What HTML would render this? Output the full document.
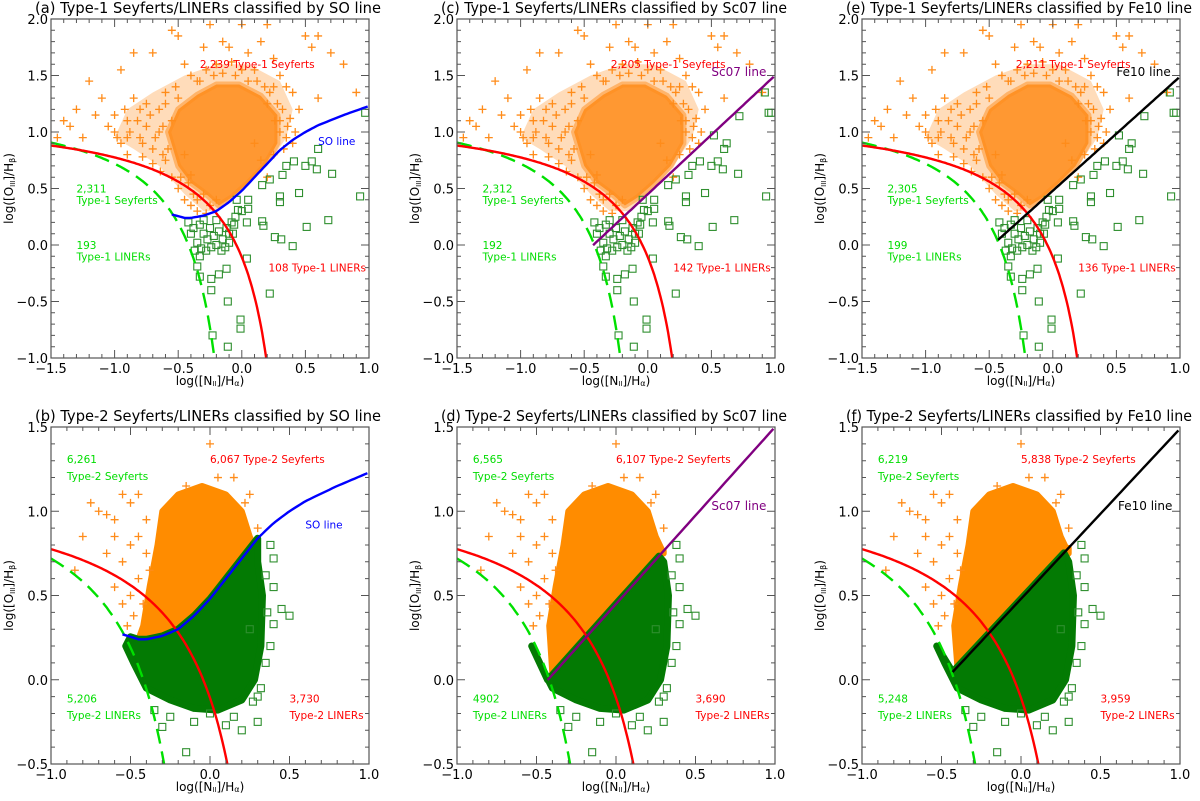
<!DOCTYPE html>
<html><head><meta charset="utf-8">
<style>
html,body{margin:0;padding:0;background:#fff;overflow:hidden;width:1200px;height:801px;}
svg{display:block;font-family:"DejaVu Sans","Liberation Sans",sans-serif;}
</style></head>
<body>
<svg id="fig" width="1200" height="801" viewBox="0 0 1200 801" xmlns="http://www.w3.org/2000/svg"></svg>
<script>
// ---------- data ----------
const t1OrangeX=[-1.45,-1.4,-1.3,-1.2,-1.1,-1.0,-0.95,-0.9,-0.85,-0.8,-0.75,-0.7,-0.65,-0.6,-0.55,-0.5,-0.45,-0.4,-0.3,-0.25,-0.2,-0.15,-0.1,0.0,0.05,0.1,0.15,0.2,0.25,0.3,0.35,0.4,0.45,0.5,0.55,0.6,0.7,0.8,0.9,0.6,0.3,0.4,0.35,0.25,-1.25,-1.15,-1.0,-0.9,-0.8,-0.7,-0.6,-0.55,-0.5,-0.45,-0.4,-0.35,-0.3,-0.25,-0.2,-0.55,-0.65,-0.75,-0.85,-0.95,0.1,0.15,0.2,0.25,-1.35,-0.45,-0.5,-0.35,-0.05,0.05,0.2];
const t1OrangeY=[0.95,1.1,1.2,1.45,1.3,1.0,1.55,1.1,1.7,0.95,1.25,1.7,1.0,1.35,1.9,1.85,1.6,1.5,1.75,1.95,1.6,1.8,1.75,1.95,1.7,1.55,1.8,1.95,1.65,1.5,1.4,1.35,1.2,1.85,1.75,1.85,1.7,1.6,1.35,1.3,1.1,0.9,0.95,0.8,0.95,1.15,1.15,0.8,1.2,0.85,0.75,0.6,0.5,0.4,0.35,0.3,0.45,0.35,0.4,1.1,1.2,1.05,1.3,0.9,0.9,0.75,1.25,1.4,1.05,0.8,1.3,1.45,1.5,1.45,0.6];
const t1OrangeMoreX=[-1.05,-0.98,-0.92,-0.88,-0.82,-0.78,-0.72,-0.68,-0.62,-0.58,-0.7,-0.64,-0.6,-0.52,-0.48,-0.42,-0.38,-0.33,-0.28,-0.22,0.22,0.28,0.32,0.36,0.3,0.26,0.33,0.38,0.42,-0.35,-0.28,-0.4,-0.15,0.0,0.12,-0.08,0.18,-0.62,-0.78,-0.9];
const t1OrangeMoreY=[1.05,0.95,1.2,1.0,1.1,0.9,1.15,0.95,1.05,0.85,0.72,0.65,1.25,1.4,0.6,0.55,0.45,1.45,1.55,1.5,1.35,1.25,1.2,1.05,1.0,1.1,0.85,1.12,1.0,0.4,0.28,0.62,1.52,1.55,1.45,1.62,1.4,0.8,0.78,0.95];
const t1HaloX=[-1.0,-0.9,-0.7,-0.45,-0.2,0.05,0.3,0.4,0.35,0.2,0.05,-0.1,-0.3,-0.45,-0.65,-0.85];
const t1HaloY=[0.95,1.2,1.35,1.5,1.6,1.6,1.45,1.2,0.95,0.7,0.5,0.3,0.3,0.45,0.7,0.85];
const t1CoreX=[-0.5,-0.58,-0.5,-0.35,-0.2,-0.02,0.15,0.28,0.28,0.18,0.05,-0.08,-0.18,-0.28,-0.4];
const t1CoreY=[0.7,1.0,1.2,1.33,1.42,1.42,1.32,1.15,0.9,0.7,0.55,0.42,0.35,0.45,0.55];
const t1GreenX=[0.97,0.60,0.71,0.59,0.50,0.55,0.41,0.35,0.32,0.22,0.16,0.30,0.30,0.45,0.93,0.68,0.51,0.40,0.26,0.31,0.16,0.17,0.05,0.05,-0.03,-0.04,0.04,-0.07,0.04,-0.12,-0.18,-0.24,-0.24,-0.33,-0.35,0.22,-0.11,-0.01,-0.01,-0.23,-0.11,-0.33,-0.42,-0.38,-0.33,-0.3,-0.27,-0.25,-0.22,-0.2,-0.18,-0.15,-0.13,-0.12,-0.1,-0.08,-0.35,-0.32,-0.28,-0.24,-0.3,-0.2,-0.16,-0.4,-0.37,-0.1,-0.05,0.0,-0.06];
const t1GreenY=[1.17,0.85,0.63,0.67,0.70,0.74,0.74,0.70,0.62,0.58,0.53,0.43,0.38,0.46,0.43,0.22,0.16,-0.01,0.07,0.05,0.21,0.17,0.32,0.40,0.31,0.40,0.20,0.10,-0.12,-0.21,-0.26,-0.30,-0.40,-0.28,-0.19,-0.43,-0.50,-0.66,-0.74,-0.80,-0.90,-0.10,0.2,0.15,0.18,0.1,0.05,0.15,0.08,0.0,0.12,0.05,-0.02,0.15,0.02,0.2,0.02,-0.03,-0.05,-0.02,0.22,0.22,-0.05,0.1,-0.05,0.1,0.25,0.3,0.18];
const t1GreenExtraX=[0.92,0.95,0.72,0.52,0.62];
const t1GreenExtraY=[1.35,1.17,1.14,0.97,0.9];
const t2OrangeTopX=[-0.42,-0.38,-0.33,-0.3,-0.2,-0.05,0.1,0.2,0.25,0.3];
const t2OrangeTopY=[0.32,0.55,0.8,1.0,1.1,1.15,1.1,1.0,0.85,0.75];
const t2GreenBotX=[0.3,0.33,0.32,0.28,0.2,0.05,-0.1,-0.25,-0.4,-0.48,-0.53];
const t2GreenBotY=[0.7,0.5,0.2,0.0,-0.12,-0.18,-0.17,-0.12,-0.05,0.1,0.2];
const t2OrangeX=[-0.75,-0.7,-0.65,-0.6,-0.55,-0.5,-0.45,-0.6,-0.8,-0.85,-0.65,-0.55,-0.5,-0.45,-0.6,-0.55,-0.5,0.0,0.05,0.15,-0.15,0.25,0.3,-0.4,-0.4,0.22,-0.42,-0.48,-0.38,-0.52,-0.45];
const t2OrangeY=[1.05,1.0,0.98,0.95,1.1,1.05,1.1,0.85,0.85,0.65,0.75,0.7,0.8,0.6,0.55,0.45,0.5,1.4,1.2,1.2,1.15,1.1,0.9,0.95,0.75,1.05,0.45,0.38,0.65,0.32,0.85];
const t2GreenX=[0.45,0.5,0.4,0.38,0.4,0.35,0.4,0.38,0.3,0.3,0.27,0.2,0.1,-0.1,-0.25,-0.3,-0.15,0.0,0.15,0.35,0.32,-0.35,0.25,0.36];
const t2GreenY=[0.42,0.38,0.33,0.2,0.55,0.62,0.72,0.8,-0.1,-0.25,-0.13,-0.3,-0.27,-0.25,-0.22,-0.28,-0.43,-0.2,-0.22,0.1,-0.05,-0.18,0.3,0.4];
const soLineX=[-0.55,-0.45,-0.4,-0.3,-0.2,-0.1,0.0,0.1,0.2,0.3,0.4,0.5,0.6,0.8,1.0];
const soLineY=[0.27,0.24,0.24,0.26,0.3,0.38,0.48,0.6,0.72,0.84,0.93,1.0,1.06,1.15,1.23];
const xTicksTop=[-1.5,-1.0,-0.5,0.0,0.5,1.0];
const yTicksTop=[-1.0,-0.5,0.0,0.5,1.0,1.5,2.0];
const xTicksBot=[-1.0,-0.5,0.0,0.5,1.0];
const yTicksBot=[-0.5,0.0,0.5,1.0,1.5];

// ---------- helpers ----------
const NS='http://www.w3.org/2000/svg';
const svg=document.getElementById('fig');
function mk(tag,attrs,parent){const e=document.createElementNS(NS,tag);for(const k in attrs)e.setAttribute(k,attrs[k]);(parent||svg).appendChild(e);return e;}
function interp(xs,ys,x){if(x<=xs[0])return ys[0];for(let i=1;i<xs.length;i++){if(x<=xs[i]){const t=(x-xs[i-1])/(xs[i]-xs[i-1]);return ys[i-1]+t*(ys[i]-ys[i-1]);}}return ys[ys.length-1];}

const panels=[
 {id:'a',ox:51,oy:19,top:true,line:'so',title:'(a) Type-1 Seyferts/LINERs classified by SO line'},
 {id:'c',ox:457,oy:19,top:true,line:'sc',title:'(c) Type-1 Seyferts/LINERs classified by Sc07 line'},
 {id:'e',ox:862,oy:19,top:true,line:'fe',title:'(e) Type-1 Seyferts/LINERs classified by Fe10 line'},
 {id:'b',ox:51,oy:427,top:false,line:'so',title:'(b) Type-2 Seyferts/LINERs classified by SO line'},
 {id:'d',ox:457,oy:427,top:false,line:'sc',title:'(d) Type-2 Seyferts/LINERs classified by Sc07 line'},
 {id:'f',ox:862,oy:427,top:false,line:'fe',title:'(f) Type-2 Seyferts/LINERs classified by Fe10 line'}
];
const W=318;
const G='#00dd00';
const ann={
 a:[['2,239 Type-1 Seyferts','red',-0.33,1.6],['2,311',G,-1.3,0.5],['Type-1 Seyferts',G,-1.3,0.4],['193',G,-1.3,0.0],['Type-1 LINERs',G,-1.3,-0.1],['108 Type-1 LINERs','red',0.21,-0.2]],
 c:[['2,205 Type-1 Seyferts','red',-0.29,1.6],['2,312',G,-1.3,0.5],['Type-1 Seyferts',G,-1.3,0.4],['192',G,-1.3,0.0],['Type-1 LINERs',G,-1.3,-0.1],['142 Type-1 LINERs','red',0.2,-0.2]],
 e:[['2,211 Type-1 Seyferts','red',-0.29,1.6],['2,305',G,-1.3,0.5],['Type-1 Seyferts',G,-1.3,0.4],['199',G,-1.3,0.0],['Type-1 LINERs',G,-1.3,-0.1],['136 Type-1 LINERs','red',0.2,-0.2]],
 b:[['6,261',G,-0.9,1.31],['Type-2 Seyferts',G,-0.9,1.21],['6,067 Type-2 Seyferts','red',0.0,1.31],['5,206',G,-0.9,-0.11],['Type-2 LINERs',G,-0.9,-0.21],['3,730','red',0.5,-0.11],['Type-2 LINERs','red',0.5,-0.21]],
 d:[['6,565',G,-0.9,1.31],['Type-2 Seyferts',G,-0.9,1.21],['6,107 Type-2 Seyferts','red',0.0,1.31],['4902',G,-0.9,-0.11],['Type-2 LINERs',G,-0.9,-0.21],['3,690','red',0.5,-0.11],['Type-2 LINERs','red',0.5,-0.21]],
 f:[['6,219',G,-0.9,1.31],['Type-2 Seyferts',G,-0.9,1.21],['5,838 Type-2 Seyferts','red',0.0,1.31],['5,248',G,-0.9,-0.11],['Type-2 LINERs',G,-0.9,-0.21],['3,959','red',0.5,-0.11],['Type-2 LINERs','red',0.5,-0.21]]
};
const lineLab={so:['SO line','#0000ff'],sc:['Sc07 line','#800080'],fe:['Fe10 line','#000000']};

panels.forEach(p=>{
 const H=p.top?339:337;
 const xmin=p.top?-1.5:-1.0,xmax=1.0,ymin=p.top?-1.0:-0.5,ymax=p.top?2.0:1.5;
 const sx=v=>p.ox+(v-xmin)/(xmax-xmin)*W;
 const sy=v=>p.oy+(ymax-v)/(ymax-ymin)*H;
 const divF=x=>p.line==='so'?interp(soLineX,soLineY,x):(p.line==='sc'?1.05*x+0.45:1.01*x+0.48);
 const x0=p.line==='so'?-0.55:-0.43;
 const g=mk('g',{});
 
 
 const cp=mk('clipPath',{id:'clip-'+p.id},g);
 mk('rect',{x:p.ox,y:p.oy,width:W,height:H},cp);
 // clip for region above the dividing line (for type-1 halo)
 let ad=`M${sx(xmin)},${sy(ymax)}`;
 for(let x=xmin;x<=1.0001;x+=0.02){const xx=Math.max(x,x0);ad+=`L${sx(x).toFixed(1)},${sy(x<x0?divF(x0)-0.05:divF(xx)).toFixed(1)}`;}
 ad+=`L${sx(1)},${sy(ymax)}Z`;
 const cpa=mk('clipPath',{id:'above-'+p.id},g);
 mk('path',{d:ad},cpa);
 const plot=mk('g',{'clip-path':'url(#clip-'+p.id+')'},g);
 
 
 const cross=(x,y)=>{const X=sx(x),Y=sy(y);const e=mk('path',{d:`M${X-4},${Y}H${X+4}M${X},${Y-4}V${Y+4}`,stroke:'#ff8c1a','stroke-width':1.3,fill:'none'},plot);
  
  };
 const sq=(x,y)=>{const e=mk('rect',{x:sx(x)-3.5,y:sy(y)-3.5,width:7,height:7,fill:'none',stroke:'#2f8f2f','stroke-width':1.1},plot);
  
  };
 if(p.top){
  const ag=mk('g',{'clip-path':'url(#above-'+p.id+')'},plot);
  
  
  const hp=t1HaloX.map((x,i)=>sx(x)+','+sy(t1HaloY[i])).join(' ');
  const halo=mk('polygon',{points:hp,fill:'#ff8c1a','fill-opacity':0.3,stroke:'none'},ag);
  
  
  const pts=t1CoreX.map((x,i)=>sx(x)+','+sy(t1CoreY[i])).join(' ');
  const core=mk('polygon',{points:pts,fill:'#ff8c1a','fill-opacity':0.85,stroke:'#ff8c1a','stroke-opacity':0.5,'stroke-width':6,'stroke-linejoin':'round'},ag);
  
  
  t1OrangeX.forEach((x,i)=>cross(x,t1OrangeY[i]));
  t1OrangeMoreX.forEach((x,i)=>cross(x,t1OrangeMoreY[i]));
  t1GreenX.forEach((x,i)=>sq(x,t1GreenY[i]));
  if(p.line!=='so')t1GreenExtraX.forEach((x,i)=>sq(x,t1GreenExtraY[i]));
 } else {
  let op=t2OrangeTopX.map((x,i)=>[x,t2OrangeTopY[i]]);
  for(let x=0.3;x>=Math.max(-0.45,x0);x-=0.05)op.push([x,divF(x)]);
  const ob=mk('polygon',{points:op.map(q=>sx(q[0])+','+sy(q[1])).join(' '),fill:'#ff8c00',stroke:'#ff8c00','stroke-width':6,'stroke-linejoin':'round'},plot);
  
  
  let gp=[];
  for(let x=Math.max(-0.5,x0);x<=0.3001;x+=0.05)gp.push([x,divF(x)]);
  t2GreenBotX.forEach((x,i)=>gp.push([x,t2GreenBotY[i]]));
  const gb=mk('polygon',{points:gp.map(q=>sx(q[0])+','+sy(q[1])).join(' '),fill:'#037a03',stroke:'#037a03','stroke-width':7,'stroke-linejoin':'round'},plot);
  
  
  t2OrangeX.forEach((x,i)=>cross(x,t2OrangeY[i]));
  t2GreenX.forEach((x,i)=>sq(x,t2GreenY[i]));
 }
 let d='';for(let x=xmin;x<0.04;x+=0.01){const y=0.61/(x-0.05)+1.3;d+=(d?'L':'M')+sx(x).toFixed(1)+','+sy(y).toFixed(1);}
 const ka=mk('path',{d,fill:'none',stroke:'#00e000','stroke-width':2.4,'stroke-dasharray':'15,8'},plot);
 
 
 d='';for(let x=xmin;x<0.46;x+=0.01){const y=0.61/(x-0.47)+1.19;d+=(d?'L':'M')+sx(x).toFixed(1)+','+sy(y).toFixed(1);}
 const ke=mk('path',{d,fill:'none',stroke:'#ff0000','stroke-width':2.4},plot);
 
 
 d='';for(let x=x0;x<=1.0001;x+=0.02){d+=(d?'L':'M')+sx(x).toFixed(1)+','+sy(divF(x)).toFixed(1);}
 const dl=mk('path',{d,fill:'none',stroke:lineLab[p.line][1],'stroke-width':2.4},plot);
 
 
 const fr=mk('rect',{x:p.ox,y:p.oy,width:W,height:H,fill:'none',stroke:'#555','stroke-width':1.2},g);
 
 
 let td='';
 const fx=Math.round(xmin*10),lx=Math.round(xmax*10);
 for(let k=fx;k<=lx;k++){const X=sx(k/10);const L=k%5===0?8:4;td+=`M${X},${p.oy+H}v${-L}M${X},${p.oy}v${L}`;}
 const fy=Math.round(ymin*10),ly=Math.round(ymax*10);
 for(let k=fy;k<=ly;k++){const Y=sy(k/10);const L=k%5===0?8:4;td+=`M${p.ox},${Y}h${L}M${p.ox+W},${Y}h${-L}`;}
 const tk=mk('path',{d:td,stroke:'#555','stroke-width':1,fill:'none'},g);
 
 
 (p.top?xTicksTop:xTicksBot).forEach(v=>{const t=mk('text',{x:sx(v),y:p.oy+H+15,'text-anchor':'middle','font-size':13},g);t.textContent=v.toFixed(1).replace('-','\u2212');
  
  });
 (p.top?yTicksTop:yTicksBot).forEach(v=>{const t=mk('text',{x:p.ox-3,y:sy(v)+5,'text-anchor':'end','font-size':13},g);t.textContent=v.toFixed(1).replace('-','\u2212');
  
  });
 const xt=mk('text',{x:p.ox+W/2,y:p.oy+H+27,'text-anchor':'middle','font-size':12},g);
 xt.innerHTML='log([N<tspan font-size="7" dy="1">II</tspan><tspan dy="-1">]/H</tspan><tspan font-size="8" dy="1">α</tspan><tspan dy="-1">)</tspan>';
 
 
 const yx=p.ox-38,yy=p.oy+H/2;
 const yt=mk('text',{x:yx,y:yy,'text-anchor':'middle','font-size':12,transform:`rotate(-90 ${yx} ${yy})`},g);
 yt.innerHTML='log([O<tspan font-size="7" dy="2">III</tspan><tspan dy="-2">]/H</tspan><tspan font-size="8" dy="2">β</tspan><tspan dy="-2">)</tspan>';
 
 
 const tt=mk('text',{x:p.ox-16,y:p.oy-6,'font-size':15,textLength:346,lengthAdjust:'spacingAndGlyphs'},g);
 tt.textContent=p.title;
 
 
 ann[p.id].forEach(a=>{const t=mk('text',{x:sx(a[2]),y:sy(a[3])+4,fill:a[1],'font-size':10.5},g);t.textContent=a[0];
  
  });
 const lp=p.top?{so:[0.6,0.92],sc:[0.5,1.53],fe:[0.5,1.53]}:{so:[0.6,0.92],sc:[0.6,1.03],fe:[0.61,1.03]};
 const q=lp[p.line];
 const ll=mk('text',{x:sx(q[0]),y:sy(q[1])+4,fill:lineLab[p.line][1],'font-size':p.line==='so'?10.5:12},g);
 ll.textContent=lineLab[p.line][0];
 
 
});
</script>
</body></html>
